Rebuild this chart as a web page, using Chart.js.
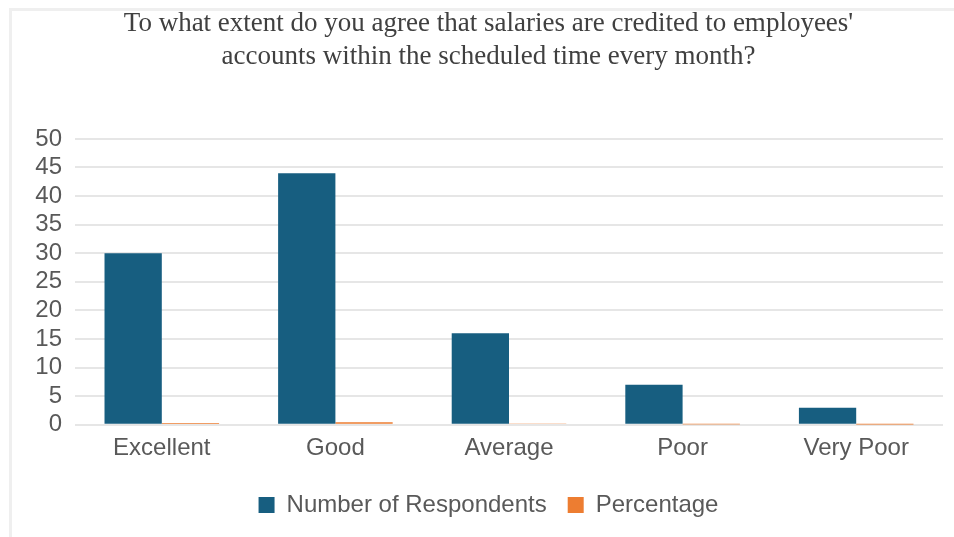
<!DOCTYPE html>
<html>
<head>
<meta charset="utf-8">
<script src="https://cdn.jsdelivr.net/npm/chart.js@4"></script>
<style>
  html, body { margin: 0; padding: 0; background: #fff; }
  #wrap { position: relative; width: 954px; height: 537px; }
  #frame { position: absolute; left: 9px; top: 8px; right: 0; bottom: 0;
           border-left: 3px solid #efefef; border-top: 3px solid #efefef; }
  canvas { position: absolute; left: 0; top: 0; }
</style>
</head>
<body>
<div id="wrap">
  <div id="frame"></div>
  <canvas id="grafico" width="954" height="537"></canvas>
</div>
<script>
const categorias = ["Excellent", "Good", "Average", "Poor", "Very Poor"]
const respondentes = [30, 44, 16, 7, 3]
const percentuais = [0.30, 0.44, 0.16, 0.07, 0.03]
const yTicks = [0, 5, 10, 15, 20, 25, 30, 35, 40, 45, 50]
const titulo = ["To what extent do you agree that salaries are credited to employees'",
                "accounts within the scheduled time every month?"]

const textoCinza = "#595959"
const fonteTexto = { family: "Liberation Sans", size: 24 }
const ctx = document.getElementById("grafico")

new Chart(ctx, {
  type: "bar",
  data: {
    labels: categorias,
    datasets: [
      { label: "Number of Respondents", data: respondentes, backgroundColor: "#175e80" },
      { label: "Percentage", data: percentuais, backgroundColor: "#ed7d31" }
    ]
  },
  options: {
    responsive: false,
    animation: false,
    layout: { padding: { left: 34, right: 11, top: 7, bottom: 10 } },
    datasets: { bar: { categoryPercentage: 0.66, barPercentage: 1.0 } },
    plugins: {
      tooltip: { enabled: false },
      title: {
        display: true,
        text: titulo,
        color: "#404040",
        font: { family: "Liberation Serif", size: 27, weight: "normal", lineHeight: 1.22 },
        padding: { top: 0, bottom: 66 }
      },
      legend: {
        position: "bottom",
        labels: {
          color: textoCinza,
          font: fonteTexto,
          boxWidth: 16,
          boxHeight: 16,
          padding: 21
        }
      }
    },
    scales: {
      x: {
        grid: { display: false, drawTicks: false },
        border: { display: false },
        ticks: { color: textoCinza, font: { family: "Liberation Sans", size: 24, lineHeight: 0.8 }, padding: 14 }
      },
      y: {
        min: 0,
        max: 50,
        afterBuildTicks: axis => { axis.ticks = yTicks.map(v => ({ value: v })) },
        afterFit: axis => { axis.width = 41 },
        grid: { color: "#e6e6e6", lineWidth: 2, drawTicks: false },
        border: { display: false },
        ticks: { color: textoCinza, font: fonteTexto, padding: 13, autoSkip: false }
      }
    }
  }
})
</script>
</body>
</html>
